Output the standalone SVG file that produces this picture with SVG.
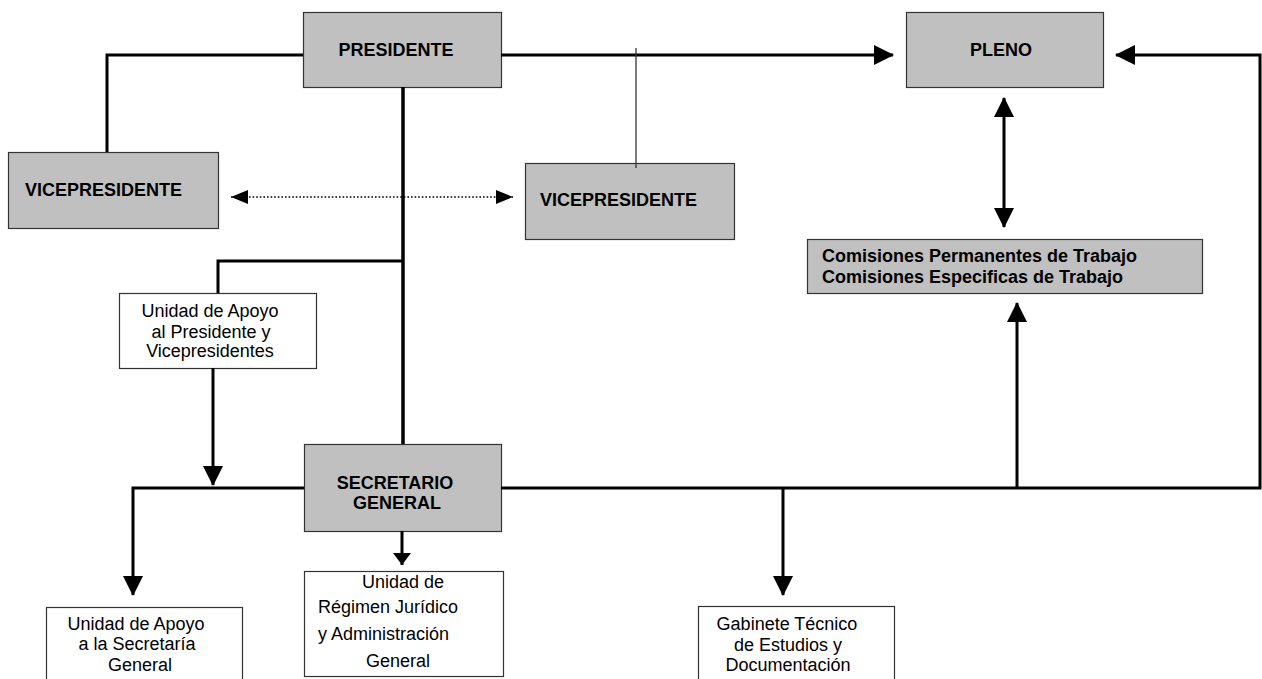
<svg xmlns="http://www.w3.org/2000/svg" width="1262" height="679" viewBox="0 0 1262 679">
<style>
.box{stroke:#333;stroke-width:1.2}
.gray{fill:#c0c0c0}
.white{fill:#fff}
.b{font-family:"Liberation Sans",Arial,sans-serif;font-size:18px;font-weight:bold;fill:#000}
.r{font-family:"Liberation Sans",Arial,sans-serif;font-size:18px;fill:#000}
.m{text-anchor:middle}
.ln{fill:none;stroke:#000;stroke-width:3}
.thin{fill:none;stroke:#333;stroke-width:1.3}
.dot{fill:none;stroke:#000;stroke-width:1.6;stroke-dasharray:1.6 2}
</style>
<defs>
<marker id="ah" markerUnits="userSpaceOnUse" markerWidth="20" markerHeight="20" refX="19" refY="10" orient="auto-start-reverse" viewBox="0 0 20 20">
<path d="M0,0 L20,10 L0,20 z" fill="#000"/>
</marker>
<marker id="ahs" markerUnits="userSpaceOnUse" markerWidth="17" markerHeight="14" refX="17" refY="7" orient="auto-start-reverse" viewBox="0 0 17 14">
<path d="M0,0 L17,7 L0,14 z" fill="#000"/>
</marker>
<marker id="ahm" markerUnits="userSpaceOnUse" markerWidth="12" markerHeight="18" refX="12" refY="9" orient="auto-start-reverse" viewBox="0 0 12 18">
<path d="M0,0 L12,9 L0,18 z" fill="#000"/>
</marker>
</defs>
<rect width="1262" height="679" fill="#fff"/>

<g id="presidente">
<rect class="box gray" x="303.5" y="12.5" width="198" height="75"/>
<text class="b m" x="396" y="56">PRESIDENTE</text>
</g>
<g id="pleno">
<rect class="box gray" x="906.5" y="12.5" width="197" height="75"/>
<text class="b m" x="1001" y="56">PLENO</text>
</g>
<g id="vicepresidente1">
<rect class="box gray" x="8.5" y="152.5" width="210" height="76"/>
<text class="b" x="25" y="196">VICEPRESIDENTE</text>
</g>
<g id="vicepresidente2">
<rect class="box gray" x="525.5" y="163.5" width="209" height="76"/>
<text class="b" x="540" y="206">VICEPRESIDENTE</text>
</g>
<g id="comisiones">
<rect class="box gray" x="807.5" y="239.5" width="395" height="54"/>
<text class="b" x="822" y="262">Comisiones Permanentes de Trabajo</text>
<text class="b" x="822" y="283">Comisiones Especificas de Trabajo</text>
</g>
<g id="unidad-apoyo-presidente">
<rect class="box white" x="119.5" y="293.5" width="197" height="75"/>
<text class="r m" x="210" y="317">Unidad de Apoyo</text>
<text class="r m" x="211" y="338">al Presidente y</text>
<text class="r m" x="210" y="357">Vicepresidentes</text>
</g>
<g id="secretario-general">
<rect class="box gray" x="304.5" y="444.5" width="197" height="87"/>
<text class="b m" x="395" y="489">SECRETARIO</text>
<text class="b m" x="397" y="509">GENERAL</text>
</g>
<g id="unidad-apoyo-sg">
<rect class="box white" x="46.5" y="607.5" width="196" height="90"/>
<text class="r m" x="136" y="630">Unidad de Apoyo</text>
<text class="r m" x="137" y="650">a la Secretaría</text>
<text class="r m" x="140" y="671">General</text>
</g>
<g id="unidad-regimen">
<rect class="box white" x="304.5" y="571.5" width="199" height="105"/>
<text class="r" x="362" y="588">Unidad de</text>
<text class="r" x="318" y="613">Régimen Jurídico</text>
<text class="r" x="318" y="640">y Administración</text>
<text class="r" x="366" y="667">General</text>
</g>
<g id="gabinete">
<rect class="box white" x="698.5" y="606.5" width="196" height="90"/>
<text class="r m" x="787" y="630">Gabinete Técnico</text>
<text class="r m" x="788" y="651">de Estudios y</text>
<text class="r m" x="788" y="671">Documentación</text>
</g>

<g id="connectors">
<polyline class="ln" points="303,55 107,55 107,152"/>
<line class="ln" x1="501" y1="55" x2="893" y2="55" marker-end="url(#ah)"/>
<line class="thin" x1="636" y1="48" x2="636" y2="168"/>
<line class="ln" x1="403" y1="87" x2="403" y2="444" style="stroke-width:3.5"/>
<line class="dot" x1="231" y1="197" x2="513" y2="197" marker-start="url(#ahs)" marker-end="url(#ahs)"/>
<polyline class="ln" points="403,261 218,261 218,293"/>
<line class="ln" x1="213" y1="368" x2="213" y2="485" marker-end="url(#ah)"/>
<polyline class="ln" points="304,488 133,488 133,595" marker-end="url(#ah)"/>
<line class="ln" x1="402" y1="531" x2="402" y2="565" marker-end="url(#ahm)"/>
<polyline class="ln" points="501,488 1260,488 1260,55 1116,55" marker-end="url(#ah)"/>
<line class="ln" x1="783" y1="488" x2="783" y2="595" marker-end="url(#ah)"/>
<line class="ln" x1="1017" y1="488" x2="1017" y2="303" marker-end="url(#ah)"/>
<line class="ln" x1="1004" y1="98" x2="1004" y2="227" marker-start="url(#ah)" marker-end="url(#ah)"/>
</g>
</svg>
